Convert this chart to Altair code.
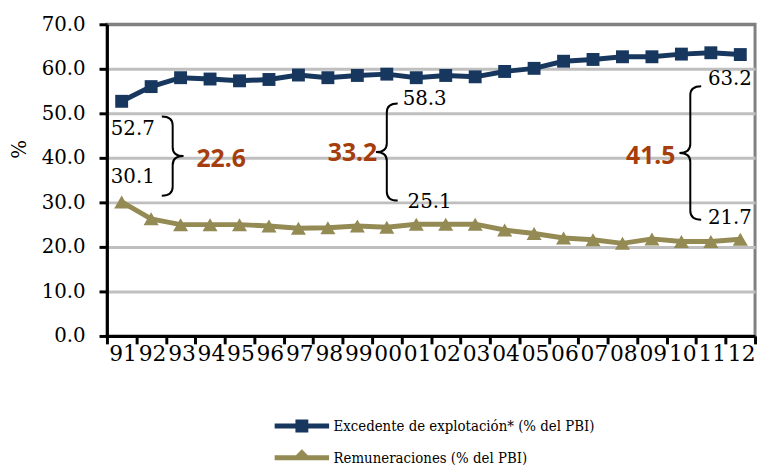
import altair as alt
import pandas as pd

# ---------------- data ----------------
years = ["91", "92", "93", "94", "95", "96", "97", "98", "99", "00", "01",
         "02", "03", "04", "05", "06", "07", "08", "09", "10", "11", "12"]
excedente = [52.7, 56.0, 58.0, 57.7, 57.3, 57.6, 58.6, 58.0, 58.5, 58.8, 58.0,
             58.5, 58.2, 59.4, 60.1, 61.7, 62.1, 62.7, 62.7, 63.3, 63.6, 63.2]
remuneraciones = [30.1, 26.3, 25.0, 25.0, 25.0, 24.7, 24.2, 24.3, 24.7, 24.4, 25.1,
                  25.1, 25.1, 23.8, 23.0, 22.0, 21.6, 20.8, 21.8, 21.2, 21.2, 21.7]
series_names = ["Excedente de explotación*  (% del PBI)", "Remuneraciones  (% del PBI)"]
y_ticks = [0, 10, 20, 30, 40, 50, 60, 70]

# annotation texts (anchored at a year and a value on the y scale)
num_text = ["52.7", "30.1", "58.3", "25.1", "63.2", "21.7"]
num_year = ["91", "91", "00", "00", "11", "11"]
num_pos = [46.4, 35.6, 53.1, 30.0, 57.6, 26.4]
num_dx = [-11, -11, 16, 21, -3, -3]

gap_text = ["22.6", "33.2", "41.5"]
gap_year = ["93", "99", "10"]
gap_pos = [39.8, 41.1, 40.4]
gap_dx = [16, 20, -6]
gap_align = ["left", "right", "right"]

brace_year = ["93", "00", "10"]
brace_pos = [40.4, 41.3, 41.1]
brace_dx = [-8, 0, 9]
brace_h = [80, 98, 135]
brace_facing = ["right", "left", "left"]

# ---------------- styles ----------------
BLUE = "#17375E"
OLIVE = "#948A54"
RED = "#A53E0C"
SERIF = "DejaVu Serif"

df = pd.DataFrame({
    "year": years * 2,
    "value": excedente + remuneraciones,
    "serie": [series_names[0]] * len(years) + [series_names[1]] * len(years),
})
df_ex = df[df["serie"] == series_names[0]]
df_re = df[df["serie"] == series_names[1]]

x_enc = alt.X(
    "year:N",
    sort=years,
    scale=alt.Scale(type="band", domain=years, paddingInner=0, paddingOuter=0),
    axis=alt.Axis(
        title=None, tickBand="extent", labelAngle=0, labelFont=SERIF, labelFontSize=22,
        labelColor="black", domainColor="black", domainWidth=3, tickColor="black",
        tickWidth=3, tickSize=8, labelPadding=10, labelOffset=14.9, grid=False,
    ),
)
y_enc = alt.Y(
    "value:Q",
    scale=alt.Scale(domain=[0, 70], nice=False),
    axis=alt.Axis(
        values=y_ticks, format=".1f", title="%", titleFont=SERIF, titleFontSize=20,
        titleFontWeight="normal", titleColor="black", titleX=-88, titleY=126,
        titleAlign="center", titleBaseline="middle", titleAngle=270,
        labelFont=SERIF, labelFontSize=20, labelColor="black", labelPadding=14,
        domainColor="black", domainWidth=3, tickColor="black", tickWidth=3, tickSize=8,
        grid=True, gridWidth=3,
        gridColor={"condition": {"test": "datum.value === 70", "value": "#808080"},
                   "value": "#BFBFBF"},
    ),
)

line_ex = alt.Chart(df_ex).mark_line(color=BLUE, strokeWidth=5).encode(x=x_enc, y=y_enc)
pts_ex = alt.Chart(df_ex).mark_point(shape="square", filled=True, size=170, color=BLUE,
                                     opacity=1).encode(x="year:N", y="value:Q")
line_re = alt.Chart(df_re).mark_line(color=OLIVE, strokeWidth=5).encode(x="year:N", y="value:Q")
pts_re = alt.Chart(df_re).mark_point(shape="triangle-up", filled=True, size=230, color=OLIVE,
                                     opacity=1).encode(x="year:N", y="value:Q")

# legend (symbol = line with marker); 1 path unit = 10 px with symbolSize 400
path_sq = ("M -2.75 -0.25 L -0.65 -0.25 L -0.65 -0.65 L 0.65 -0.65 L 0.65 -0.25 L 2.75 -0.25 "
           "L 2.75 0.25 L 0.65 0.25 L 0.65 0.65 L -0.65 0.65 L -0.65 0.25 L -2.75 0.25 Z")
path_tri = ("M -2.75 -0.25 L -0.6 -0.25 L 0 -0.85 L 0.6 -0.25 L 2.75 -0.25 "
            "L 2.75 0.25 L -2.75 0.25 Z")
leg = alt.Legend(
    title=None, orient="none", legendX=187, legendY=396, direction="vertical",
    symbolSize=400, labelFont="DejaVu Serif Condensed", labelFontSize=15, labelColor="black",
    labelOffset=22, labelLimit=0, rowPadding=14, padding=0, symbolStrokeWidth=0,
    symbolOpacity=1,
)
legend_layer = alt.Chart(df).mark_point(filled=True, clip=True, opacity=1, strokeWidth=0).encode(
    x=alt.value(-300), y=alt.value(-300),
    color=alt.Color("serie:N", scale=alt.Scale(domain=series_names, range=[BLUE, OLIVE]), legend=leg),
    shape=alt.Shape("serie:N", scale=alt.Scale(domain=series_names, range=[path_sq, path_tri]), legend=leg),
)

layers = [line_re, pts_re, line_ex, pts_ex, legend_layer]


def brace_path(h, w, c, facing):
    s = 2.0 / h
    W = w / 2 * s
    C = c * s
    k = 1 if facing == "right" else -1
    return (f"M {-k*W:.4f} -1 Q 0 -1 0 {-1+C:.4f} L 0 {-C:.4f} Q 0 0 {k*W:.4f} 0 "
            f"Q 0 0 0 {C:.4f} L 0 {1-C:.4f} Q 0 1 {-k*W:.4f} 1")


for yr, pos, dx, h, facing in zip(brace_year, brace_pos, brace_dx, brace_h, brace_facing):
    d = pd.DataFrame({"year": [yr], "value": [pos]})
    layers.append(
        alt.Chart(d).mark_point(shape=brace_path(h, 22, 9, facing), size=h * h, filled=False,
                                color="black", strokeWidth=2, opacity=1, xOffset=dx)
        .encode(x="year:N", y="value:Q")
    )

for t, yr, pos, dx in zip(num_text, num_year, num_pos, num_dx):
    d = pd.DataFrame({"year": [yr], "value": [pos], "t": [t]})
    layers.append(
        alt.Chart(d).mark_text(font=SERIF, fontSize=20, color="black", align="left",
                               baseline="middle", dx=dx)
        .encode(x="year:N", y="value:Q", text="t:N")
    )

for t, yr, pos, dx, al in zip(gap_text, gap_year, gap_pos, gap_dx, gap_align):
    d = pd.DataFrame({"year": [yr], "value": [pos], "t": [t]})
    layers.append(
        alt.Chart(d).mark_text(font="Noto Sans", fontSize=25, fontWeight="bold", color=RED,
                               align=al, baseline="middle", dx=dx)
        .encode(x="year:N", y="value:Q", text="t:N")
    )

chart = alt.layer(*layers).properties(
    width=655, height=315,
    autosize=alt.AutoSizeParams(type="none"),
    padding={"left": 100, "top": 14, "right": 4, "bottom": 130},
).configure_view(stroke="#808080", strokeWidth=3)

chart.save("out.html", embed_options={"renderer": "svg", "actions": False})
